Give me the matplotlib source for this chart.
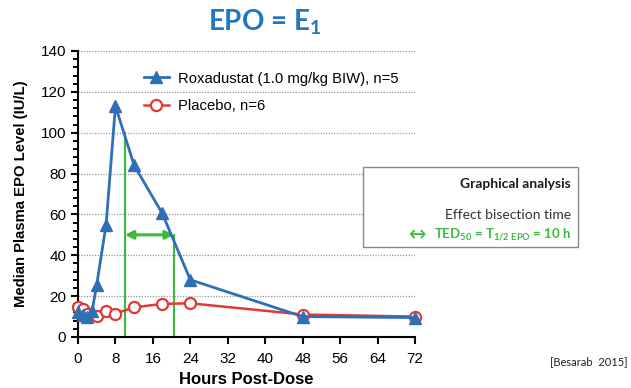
import numpy as np
import matplotlib
matplotlib.use("Agg")
import matplotlib.pyplot as plt
from matplotlib.patches import Rectangle
from matplotlib.text import Annotation
from matplotlib.ticker import MultipleLocator

plt.rcParams['font.family'] = ['Liberation Sans', 'DejaVu Sans']
plt.rcParams['mathtext.fontset'] = 'custom'
plt.rcParams['mathtext.rm'] = 'Lato:bold'
plt.rcParams['mathtext.bf'] = 'Lato:bold'
plt.rcParams['mathtext.it'] = 'Lato:bold'

# ---- data ----
roxa_t = [0, 1, 2, 3, 4, 6, 8, 12, 18, 24, 48, 72]
roxa_v = [12, 11, 10, 12.5, 25.5, 55, 113, 84, 60.5, 28, 10, 9.5]
plac_t = [0, 1, 2, 4, 6, 8, 12, 18, 24, 48, 72]
plac_v = [14.5, 13.5, 11.5, 10.5, 12.5, 11.5, 14.5, 16.2, 16.5, 11, 10]
roxa_label = "Roxadustat (1.0 mg/kg BIW), n=5"
plac_label = "Placebo, n=6"
x_ticks = [0, 8, 16, 24, 32, 40, 48, 56, 64, 72]
y_ticks = [0, 20, 40, 60, 80, 100, 120, 140]
ted_t = [10, 20.5]          # bisection times
ted_h = [100, 50]           # heights of the green verticals
arrow_y = 50

blue = '#2f6fb6'
red = '#e03a36'
green = '#3dba3d'
title_blue = '#1f78c4'

fig = plt.figure(figsize=(6.31, 3.88), dpi=100)
ax = fig.add_axes([78/631, 1-337/388, (415-78)/631, (337-51)/388])

ax.set_xlim(0, 72)
ax.set_ylim(0, 140)
ax.set_xticks(x_ticks)
ax.set_yticks(y_ticks)
ax.yaxis.set_minor_locator(MultipleLocator(4))
ax.tick_params(axis='both', which='major', direction='out', length=5, width=1.5,
               labelsize=11, colors='black')
ax.tick_params(axis='y', which='minor', direction='out', length=3.5, width=1.4)
ax.tick_params(axis='x', pad=6)
for s in ['top', 'right']:
    ax.spines[s].set_visible(False)
for s in ['left', 'bottom']:
    ax.spines[s].set_linewidth(1.5)

for yv in y_ticks[1:]:
    ax.axhline(yv, color='#9a9a9a', lw=0.9, ls=(0, (1, 1.2)), zorder=0)

# green annotation lines
for t, h in zip(ted_t, ted_h):
    ax.plot([t, t], [0, h], color=green, lw=1.5, zorder=2)
ax.annotate('', xy=(ted_t[1], arrow_y), xytext=(ted_t[0], arrow_y),
            arrowprops=dict(arrowstyle='<|-|>', color=green, lw=2.2,
                            mutation_scale=12, shrinkA=0, shrinkB=0), zorder=3)

ax.plot(plac_t, plac_v, color=red, lw=1.8, marker='o', ms=8, mfc='white',
        mec=red, mew=1.6, label=plac_label, clip_on=False, zorder=4)
ax.plot(roxa_t, roxa_v, color=blue, lw=2, marker='^', ms=8.5, mfc=blue,
        mec=blue, label=roxa_label, clip_on=False, zorder=5)

h, l = ax.get_legend_handles_labels()
ax.legend([h[1], h[0]], [l[1], l[0]], loc='upper left',
          bbox_to_anchor=(0.155, 0.975), frameon=False, fontsize=10.7,
          handlelength=1.7, handletextpad=0.6, labelspacing=0.9)

ax.set_xlabel("Hours Post-Dose", fontsize=12, fontweight='bold', labelpad=4)
ax.set_ylabel("Median Plasma EPO Level (IU/L)", fontsize=10.7, fontweight='bold',
              labelpad=9)

fig.text(265/631, 1-22/388, r"EPO = E$_{\mathrm{1}}$", color=title_blue,
         fontsize=20, fontweight='bold', family='Lato', ha='center', va='center')

# info box
fig.patches.append(Rectangle((363/631, 1-247/388), (578-363)/631, (247-167)/388,
                             transform=fig.transFigure, facecolor='white',
                             edgecolor='#8a8a8a', lw=1, zorder=1))
fig.text(571/631, 1-184/388, "Graphical analysis", family='Lato', fontweight='bold',
         fontsize=10, ha='right', va='center', color='#1a1a1a', zorder=3)
fig.text(571/631, 1-215/388, "Effect bisection time", family='Lato',
         fontsize=10, ha='right', va='center', color='#333333', zorder=3)
gt = fig.text(571/631, 1-235/388, r"TED$_{\mathrm{50}}$ = T$_{\mathrm{1/2\ EPO}}$ = 10 h",
              family='Lato', fontweight='bold', fontsize=9.5, ha='right',
              va='center', color=green, zorder=3)
arr = Annotation("\u2194", xy=(0, 0.45), xycoords=gt, xytext=(-5, 0),
                 textcoords='offset points', ha='right', va='center', color=green,
                 fontsize=15, family='DejaVu Sans', annotation_clip=False)
arr.set_zorder(3)
fig.add_artist(arr)

fig.text(0.995, 1-362/388, "[Besarab  2015]", family='Lato', fontsize=8,
         ha='right', va='center', color='#222222')

fig.savefig("out.png", dpi=100)
